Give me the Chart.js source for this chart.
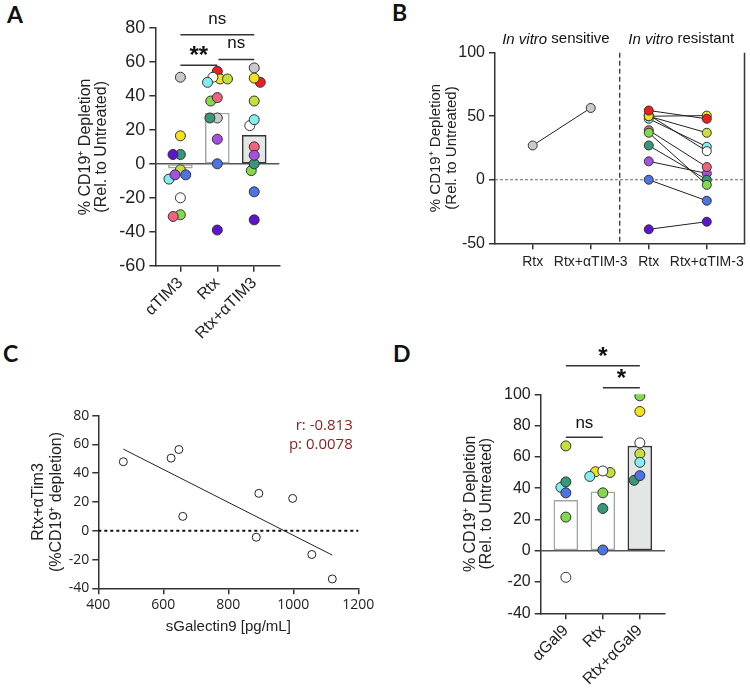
<!DOCTYPE html>
<html>
<head>
<meta charset="utf-8">
<script src="https://cdn.jsdelivr.net/npm/chart.js@4.4.1/dist/chart.umd.min.js"></script>
<style>
  body { margin: 0; width: 750px; height: 693px; position: relative; overflow: hidden; background: #fff; }
  .panel { position: absolute; }
  .tag { position: absolute; font: bold 23px Lato, 'Open Sans', sans-serif; color: #111; line-height: 23px; }
</style>
</head>
<body>
<div class="tag" style="left:7px;top:3px">A</div>
<div class="tag" style="left:392px;top:1px">B</div>
<div class="tag" style="left:3px;top:342px">C</div>
<div class="tag" style="left:393px;top:342px">D</div>
<div class="panel" style="left:0;top:0;width:300px;height:340px"><canvas id="chartA"></canvas></div>
<div class="panel" style="left:380px;top:0;width:370px;height:300px"><canvas id="chartB"></canvas></div>
<div class="panel" style="left:0;top:340px;width:390px;height:340px"><canvas id="chartC"></canvas></div>
<div class="panel" style="left:390px;top:340px;width:360px;height:353px"><canvas id="chartD"></canvas></div>
<script>
// ---- donors (one colour per patient, same in every panel) ----
const donorIds = ['P1', 'P2', 'P3', 'P4', 'P5', 'P6', 'P7', 'P8', 'P9', 'P10', 'P11', 'P12'];
const donorColors = ['#c9cbca', '#ee1d23', '#f3e31c', '#c6df3d', '#84d84b', '#ffffff',
                     '#86ecf0', '#f0627e', '#36977b', '#a650e0', '#4e74e3', '#5c14cf'];

// ---- panel A : anti-TIM3 ----
const tim3Groups = ['αTIM3', 'Rtx', 'Rtx+αTIM3'];
const tim3Alone = [51, null, 16.5, -3.5, -30, -20, -9, -31, 5.5, -6.5, -6.5, 5.5];
const tim3Rtx   = [27, 54.5, 50, 50, 37, 51, 48, 39, 27, 14.5, 0, -39];
const tim3Combo = [56.5, 48, 50.5, 37, -4, 22.5, 26, 10, 0, 5, -16.5, -33];

// ---- panel B : paired, sensitive vs resistant ----
const sensitiveIds = ['P1'];
const pairLabels = ['Rtx', 'Rtx+αTIM-3', 'Rtx', 'Rtx+αTIM-3'];

// ---- panel C : correlation ----
const sGal9    = [477, 624, 648, 660, 886, 894, 998, 1057, 1120];
const comboDep = [48, 50.5, 56.5, 10, -4.5, 26, 22.5, -16.5, -33.5];

// ---- panel D : anti-Gal9 ----
const gal9Groups = ['αGal9', 'Rtx', 'Rtx+αGal9'];
const gal9Ids   = ['P3', 'P4', 'P5', 'P6', 'P7', 'P9', 'P11'];
const gal9Alone = [null, 67, 21.5, -17, 40.5, 44, 37];
const gal9Rtx   = [50.5, 50, 37, 51, 47.5, 27, 0.5];
const gal9Combo = [89, 62, 99, 69, 56.5, 45, 48];

Chart.defaults.font.family = "'Liberation Sans', Arial, sans-serif";
Chart.defaults.color = '#222';
const INK = '#333';

const colorOf = id => donorColors[donorIds.indexOf(id)];
const mean = a => { const b = a.filter(v => v !== null); return b.reduce((s, v) => s + v, 0) / b.length; };

// extra drawing: zero lines, separators, significance brackets, free text
function decor(opts) {
  return {
    id: 'decor',
    beforeDatasetsDraw(chart) {
      const { ctx, chartArea: a, scales: { x, y } } = chart;
      ctx.save();
      (opts.hLines || []).forEach(l => {
        const py = y.getPixelForValue(l.value);
        ctx.beginPath(); ctx.setLineDash(l.dash || []);
        ctx.lineWidth = l.width; ctx.strokeStyle = l.color;
        ctx.moveTo(a.left, py); ctx.lineTo(a.right, py); ctx.stroke();
      });
      (opts.vLines || []).forEach(l => {
        const px = l.edge ? a.right : x.getPixelForValue(l.value);
        ctx.beginPath(); ctx.setLineDash(l.dash || []);
        ctx.lineWidth = l.width; ctx.strokeStyle = l.color;
        ctx.moveTo(px, a.top); ctx.lineTo(px, a.bottom); ctx.stroke();
      });
      ctx.restore();
    },
    afterDraw(chart) {
      const { ctx, scales: { x, y } } = chart;
      ctx.save();
      (opts.brackets || []).forEach(b => {
        const x1 = x.getPixelForValue(b.from), x2 = x.getPixelForValue(b.to);
        const py = y.getPixelForValue(b.at);
        ctx.beginPath(); ctx.lineWidth = 1.5; ctx.strokeStyle = INK;
        ctx.moveTo(x1, py); ctx.lineTo(x2, py); ctx.stroke();
        ctx.font = b.font; ctx.fillStyle = '#111';
        ctx.textAlign = 'center'; ctx.textBaseline = 'middle';
        ctx.fillText(b.label, (x1 + x2) / 2, y.getPixelForValue(b.labelAt));
      });
      (opts.texts || []).forEach(t => {
        ctx.textBaseline = 'middle'; ctx.textAlign = 'left'; ctx.fillStyle = t.color || '#111';
        const widths = t.parts.map(p => { ctx.font = p.font; return ctx.measureText(p.text).width; });
        const total = widths.reduce((s, w) => s + w, 0);
        let px = x.getPixelForValue(t.x);
        if (t.align === 'center') px -= total / 2;
        if (t.align === 'right') px -= total;
        const py = y.getPixelForValue(t.y);
        t.parts.forEach((p, i) => { ctx.font = p.font; ctx.fillText(p.text, px, py); px += widths[i]; });
      });
      ctx.restore();
    }
  };
}

// spread overlapping dots sideways (simple beeswarm), in pixel space
function swarm(chart, r) {
  const xs = chart.scales.x, ys = chart.scales.y;
  chart.data.datasets.forEach(ds => {
    if (ds.type !== 'scatter') return;
    const placed = [];
    const order = ds.data.map((p, i) => i).sort((a, b) => ds.data[b].y - ds.data[a].y);
    order.forEach(i => {
      const p = ds.data[i];
      const cx = xs.getPixelForValue(p.x), py = ys.getPixelForValue(p.y);
      const cands = [cx];
      placed.forEach(q => {
        const dy = Math.abs(q.py - py);
        if (dy < 2 * r) { const dx = Math.sqrt(4 * r * r - dy * dy); cands.push(q.px - dx, q.px + dx); }
      });
      cands.sort((a, b) => Math.abs(a - cx) - Math.abs(b - cx));
      const px = cands.find(c => placed.every(q => Math.hypot(q.px - c, q.py - py) >= 2 * r - 0.01));
      placed.push({ px, py });
      p.x = xs.getValueForPixel(px);
    });
  });
  chart.update('none');
}

function axisStyle() {
  return {
    grid: { drawOnChartArea: false, tickLength: 6, color: INK, lineWidth: 1.5, offset: false },
    border: { color: INK, width: 1.5 }
  };
}

// bar + dots panel (A and D)
function barPanel(id, groups, ids, series, cfg) {
  const datasets = series.map((vals, i) => {
    const pts = [], cols = [];
    vals.forEach((v, j) => { if (v !== null) { pts.push({ x: i, y: v }); cols.push(colorOf(ids[j])); } });
    return { type: 'scatter', data: pts, pointBackgroundColor: cols, pointBorderColor: INK,
             pointBorderWidth: 1, pointRadius: 5, order: 1 };
  });
  datasets.push({
    type: 'bar', data: series.map((v, i) => ({ x: i, y: mean(v) })),
    barThickness: 24, borderSkipped: false, borderWidth: 1.5,
    backgroundColor: ['#ffffff', '#ffffff', '#e4e6e6'],
    borderColor: ['#a3a6a6', '#a3a6a6', '#333333'], order: 2
  });
  const chart = new Chart(document.getElementById(id), {
    type: 'bar',
    data: { datasets },
    plugins: [decor({ hLines: [{ value: 0, width: 1.5, color: '#555' }], brackets: cfg.brackets })],
    options: {
      responsive: true, maintainAspectRatio: false, animation: false,
      layout: { padding: cfg.padding },
      plugins: { legend: { display: false }, tooltip: { enabled: false } },
      scales: {
        x: {
          type: 'linear', min: -0.68, max: 2.68, offset: false,
          afterBuildTicks: s => { s.ticks = groups.map((g, i) => ({ value: i })); },
          afterFit: s => { s.height = cfg.xHeight; },
          ticks: { callback: v => groups[v], minRotation: 45, maxRotation: 45, font: { size: 16 }, padding: 2 },
          ...axisStyle()
        },
        y: {
          min: cfg.yMin, max: cfg.yMax,
          afterFit: s => { s.width = cfg.yWidth; },
          ticks: { stepSize: 20, font: { size: cfg.tickSize }, padding: 4 },
          title: { display: true, text: ['% CD19⁺ Depletion', '(Rel. to Untreated)'],
                   font: { size: 16, lineHeight: 1.0 }, padding: 4 },
          ...axisStyle()
        }
      }
    }
  });
  swarm(chart, 3.7);
}

barPanel('chartA', tim3Groups, donorIds, [tim3Alone, tim3Rtx, tim3Combo], {
  padding: { left: 74, top: 28, right: 20.7, bottom: 0 },
  yWidth: 81.3, xHeight: 74.3, yMin: -60, yMax: 80, tickSize: 18,
  brackets: [
    { from: 0, to: 2, at: 76, label: 'ns', labelAt: 85, font: '17px Liberation Sans' },
    { from: 0, to: 1, at: 58, label: '**', labelAt: 63.5, font: 'bold 24px Liberation Sans' },
    { from: 1.03, to: 2, at: 61.4, label: 'ns', labelAt: 71, font: '17px Liberation Sans' }
  ]
});

barPanel('chartD', gal9Groups, gal9Ids, [gal9Alone, gal9Rtx, gal9Combo], {
  padding: { left: 69, top: 54.3, right: 85, bottom: 0 },
  yWidth: 81.7, xHeight: 79.7, yMin: -40, yMax: 100, tickSize: 16,
  brackets: [
    { from: 0, to: 2, at: 118.3, label: '*', labelAt: 123.5, font: 'bold 24px Liberation Sans' },
    { from: 1, to: 2, at: 104.2, label: '*', labelAt: 109.5, font: 'bold 24px Liberation Sans' },
    { from: 0, to: 1, at: 72.5, label: 'ns', labelAt: 81.6, font: '17px Liberation Sans' }
  ]
});

// ---- panel B ----
const pairSets = donorIds.map((id, j) => {
  const s = sensitiveIds.includes(id) ? 0 : 2;
  return {
    data: [{ x: s, y: tim3Rtx[j] }, { x: s + 1, y: tim3Combo[j] }],
    borderColor: '#222', borderWidth: 1, pointRadius: 4.5,
    pointBackgroundColor: donorColors[j], pointBorderColor: INK, pointBorderWidth: 1
  };
});
const headFont = '15px Liberation Sans', headItalic = 'italic 15px Liberation Sans';
new Chart(document.getElementById('chartB'), {
  type: 'line',
  data: { datasets: pairSets },
  plugins: [decor({
    hLines: [{ value: 0, width: 0.8, color: '#444', dash: [3, 2] }],
    vLines: [{ value: 1.5, width: 1.2, color: '#222', dash: [5, 3] },
             { edge: true, width: 1.5, color: INK }],
    texts: [
      { x: 0.4, y: 110.5, align: 'center', parts: [{ text: 'In vitro', font: headItalic }, { text: ' sensitive', font: headFont }] },
      { x: 2.56, y: 110.5, align: 'center', parts: [{ text: 'In vitro', font: headItalic }, { text: ' resistant', font: headFont }] }
    ]
  })],
  options: {
    responsive: true, maintainAspectRatio: false, animation: false,
    layout: { padding: { left: 44, top: 52.7, right: 2, bottom: 0 } },
    plugins: { legend: { display: false }, tooltip: { enabled: false } },
    scales: {
      x: {
        type: 'linear', min: -0.65, max: 3.65,
        afterBuildTicks: s => { s.ticks = pairLabels.map((g, i) => ({ value: i })); },
        afterFit: s => { s.height = 56.7; },
        ticks: { callback: v => pairLabels[v], maxRotation: 0, font: { size: 14 }, padding: 4 },
        ...axisStyle()
      },
      y: {
        min: -50, max: 100,
        afterFit: s => { s.width = 71; },
        ticks: { stepSize: 50, font: { size: 16 }, padding: 4 },
        title: { display: true, text: ['% CD19⁺ Depletion', '(Rel. to Untreated)'],
                 font: { size: 15, lineHeight: 1.05 }, padding: 4 },
        ...axisStyle()
      }
    }
  }
});

// ---- panel C ----
function fitLine(xs, ys) {
  const mx = mean(xs), my = mean(ys);
  let sxy = 0, sxx = 0;
  xs.forEach((v, i) => { sxy += (v - mx) * (ys[i] - my); sxx += (v - mx) * (v - mx); });
  const m = sxy / sxx;
  return v => my + m * (v - mx);
}
const reg = fitLine(sGal9, comboDep);
const xLo = Math.min(...sGal9), xHi = Math.max(...sGal9);
const cFont = "'Open Sans', sans-serif";
new Chart(document.getElementById('chartC'), {
  type: 'scatter',
  data: {
    datasets: [
      { data: sGal9.map((v, i) => ({ x: v, y: comboDep[i] })), pointRadius: 4,
        pointBackgroundColor: '#fff', pointBorderColor: '#222', pointBorderWidth: 1 },
      { type: 'line', data: [{ x: xLo, y: reg(xLo) }, { x: xHi, y: reg(xHi) }],
        borderColor: '#222', borderWidth: 1, pointRadius: 0 }
    ]
  },
  plugins: [decor({
    hLines: [{ value: 0, width: 2, color: '#111', dash: [3, 3] }],
    texts: [
      { x: 1183, y: 72.8, align: 'right', color: '#8b1d1d', parts: [{ text: 'r: -0.813', font: "15px 'Open Sans'" }] },
      { x: 1183, y: 59.8, align: 'right', color: '#8b1d1d', parts: [{ text: 'p: 0.0078', font: "15px 'Open Sans'" }] }
    ]
  })],
  options: {
    responsive: true, maintainAspectRatio: false, animation: false,
    layout: { padding: { left: 26, top: 75.7, right: 31.7, bottom: 40 } },
    plugins: { legend: { display: false }, tooltip: { enabled: false } },
    scales: {
      x: {
        type: 'linear', min: 400, max: 1200,
        afterFit: s => { s.height = 51.7; },
        ticks: { stepSize: 200, callback: v => String(v), font: { size: 14, family: cFont }, padding: 2 },
        title: { display: true, text: 'sGalectin9 [pg/mL]', font: { size: 15 }, padding: 4 },
        ...axisStyle()
      },
      y: {
        min: -40, max: 80,
        afterFit: s => { s.width = 72.3; },
        ticks: { stepSize: 20, callback: v => String(v), font: { size: 14, family: cFont }, padding: 3 },
        title: { display: true, text: ['Rtx+αTim3', '(%CD19⁺ depletion)'],
                 font: { size: 16, lineHeight: 1.1 }, padding: 4 },
        ...axisStyle()
      }
    }
  }
});
</script>
</body>
</html>
